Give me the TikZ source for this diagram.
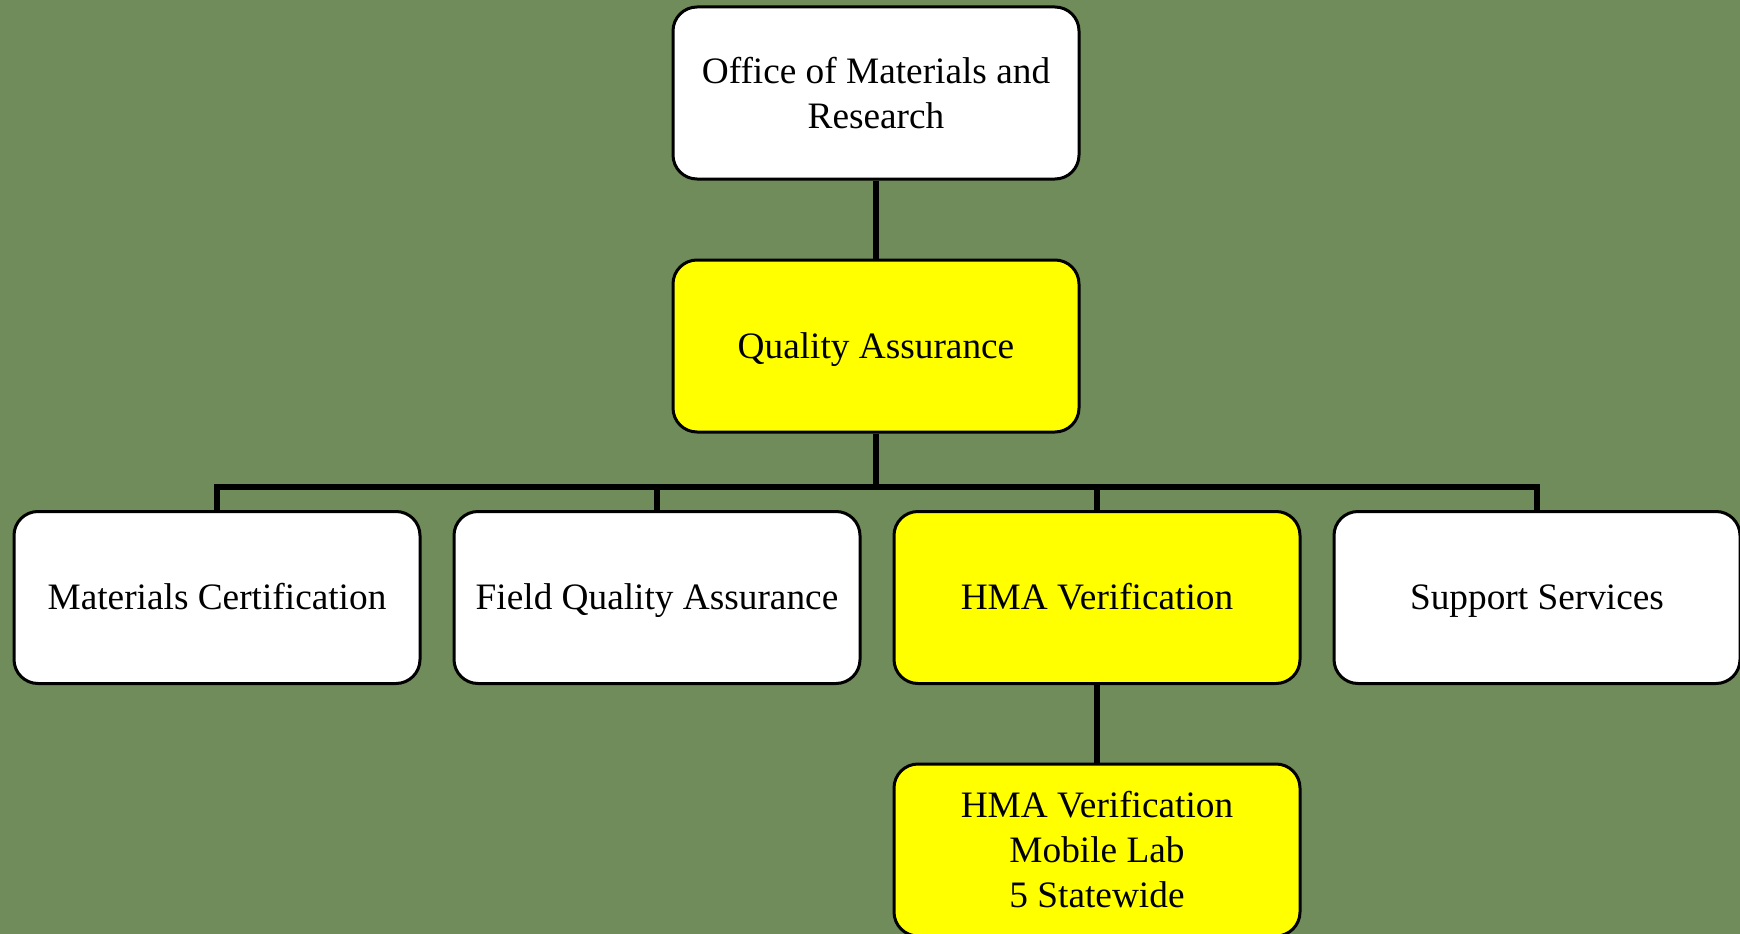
\documentclass[tikz,border=0pt]{standalone}
\usepackage{fontspec}
\setmainfont{Liberation Serif}
\usetikzlibrary{backgrounds}
\definecolor{bggreen}{RGB}{112,140,90}
\definecolor{boxyellow}{RGB}{255,255,0}
\tikzset{
  orgbox/.style={draw=black, line width=3pt, rounded corners=24pt, fill=white,
    minimum width=406pt, minimum height=172pt, align=center, inner sep=0pt,
    font=\fontsize{37.3}{45}\selectfont},
  hlbox/.style={orgbox, fill=boxyellow},
  oneline/.style={text height=24.5pt, text depth=0pt},
  conn/.style={draw=black, line width=6pt, line join=miter}
}
\begin{document}
\begin{tikzpicture}[x=1pt,y=-1pt]
\useasboundingbox (0,0) rectangle (1740,934);
% boxes
\node[orgbox] (omr) at (876,93) {Office of Materials and\\Research};
\node[hlbox, oneline] (qa) at (876,346) {Quality Assurance};
\node[orgbox, oneline] (mc) at (217,597.5) {Materials Certification};
\node[orgbox, oneline] (fqa) at (657,597.5) {Field Quality Assurance};
\node[hlbox, oneline] (hma) at (1097,597.5) {HMA Verification};
\node[orgbox, oneline] (ss) at (1537,597.5) {Support Services};
\node[hlbox] (mob) at (1097,850) {HMA Verification\\Mobile Lab\\5 Statewide};
\coordinate (bus) at (876,487);
\begin{scope}[on background layer]
\clip (0,0) rectangle (1740,934);
\fill[bggreen] (0,0) rectangle (1740,934);
\draw[conn] (omr.south) -- (qa.north);
\draw[conn] (qa.south) -- (bus);
\draw[conn] (mc.north) -- (mc.north |- bus) -- (ss.north |- bus) -- (ss.north);
\draw[conn] (fqa.north) -- (fqa.north |- bus);
\draw[conn] (hma.north) -- (hma.north |- bus);
\draw[conn] (hma.south) -- (mob.north);
\end{scope}
\end{tikzpicture}
\end{document}
